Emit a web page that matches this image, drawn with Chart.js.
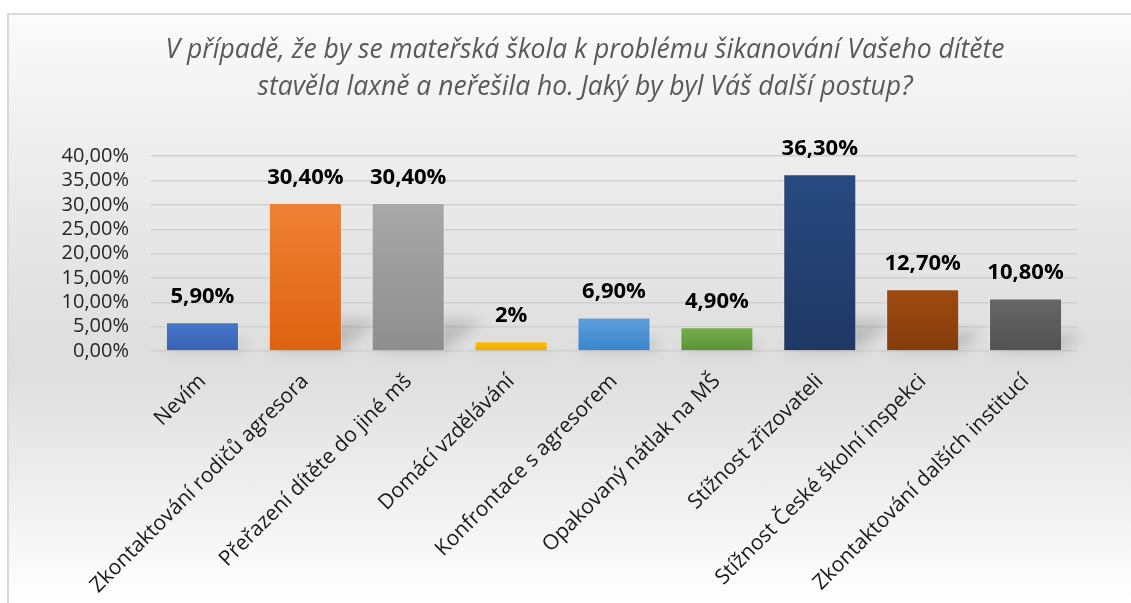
<!DOCTYPE html>
<html>
<head>
<meta charset="utf-8">
<script src="https://cdn.jsdelivr.net/npm/chart.js@4"></script>
<style>
	body { margin: 0; background: #fff; }
	#frame {
		position: absolute; left: 7px; top: 13px; right: 0; bottom: 0;
		border-top: 2px solid #d9d9d9; border-left: 2px solid #d9d9d9;
		background: linear-gradient(to bottom, #fbfbfb 0%, #efefef 20%, #e3e3e3 45%, #dedede 60%, #eeeeee 80%, #ffffff 100%);
	}
	#wrap { position: absolute; left: 0; top: 0; width: 1131px; height: 603px; }
</style>
</head>
<body>
<div id="frame"></div>
<div id="wrap"><canvas id="myChart"></canvas></div>
<script>
// 데이터
var categories = ["Nevím", "Zkontaktování rodičů agresora", "Přeřazení dítěte do jiné mš", "Domácí vzdělávání",
	"Konfrontace s agresorem", "Opakovaný nátlak na MŠ", "Stížnost zřizovateli", "Stížnost České školní inspekci",
	"Zkontaktování dalších institucí"];
var values = [5.9, 30.4, 30.4, 2, 6.9, 4.9, 36.3, 12.7, 10.8];
var yTicks = [0, 5, 10, 15, 20, 25, 30, 35, 40];

// 막대 색 (위 / 아래)
var colorTop = ["#4677cc", "#ef8136", "#a8a8a8", "#ffc20a", "#5d9fdb", "#74b04a", "#284a80", "#a04a10", "#676767"];
var colorBottom = ["#3961b0", "#de6210", "#8e8e8e", "#e8a800", "#3a84cc", "#5c9238", "#1f3763", "#843c0c", "#515151"];

function fmtPct(v, dec) {
	if (dec == null) dec = Number.isInteger(v) ? 0 : 2;
	return v.toFixed(dec).replace('.', ',') + '%';
}

// 막대 그림자 + 값 라벨
const barDeco = {
	id: 'barDeco',
	beforeDatasetsDraw(chart) {
		const ctx = chart.ctx;
		ctx.save();
		ctx.filter = 'blur(7px)';
		ctx.fillStyle = 'rgba(0,0,0,0.16)';
		chart.getDatasetMeta(0).data.forEach(function(bar){
			const h = bar.base - bar.y;
			const half = bar.width / 2;
			const dx = Math.min(h * 0.4, 38);
			const dy = Math.min(h * 0.3, 30);
			ctx.beginPath();
			ctx.moveTo(bar.x - half, bar.base);
			ctx.lineTo(bar.x + half, bar.base);
			ctx.lineTo(bar.x + half + dx, bar.base - dy);
			ctx.lineTo(bar.x - half + dx, bar.base - dy);
			ctx.closePath();
			ctx.fill();
		});
		ctx.restore();
	},
	afterDatasetsDraw(chart) {
		const ctx = chart.ctx;
		ctx.save();
		ctx.font = "bold 22px 'Open Sans'";
		ctx.fillStyle = "#000";
		ctx.textAlign = "center";
		ctx.textBaseline = "alphabetic";
		chart.getDatasetMeta(0).data.forEach(function(bar, i){
			ctx.fillText(fmtPct(values[i]), bar.x, bar.y - 19);
		});
		ctx.restore();
	}
};

const ctx = document.getElementById('myChart').getContext('2d');
const myChart = new Chart(ctx, {
	type: 'bar',
	data: {
		labels: categories,
		datasets: [{
			data: values,
			backgroundColor: function(c) {
				const chart = c.chart;
				const i = c.dataIndex;
				if (!chart.chartArea || !chart.scales.y) return colorTop[i];
				const yTop = chart.scales.y.getPixelForValue(values[i]);
				const yBot = chart.scales.y.getPixelForValue(0);
				const g = chart.ctx.createLinearGradient(0, yTop, 0, yBot);
				g.addColorStop(0, colorTop[i]);
				g.addColorStop(1, colorBottom[i]);
				return g;
			},
			borderColor: 'rgba(255,255,255,0.25)',
			borderWidth: 1,
			barPercentage: 0.71,
			categoryPercentage: 1
		}]
	},
	options: {
		responsive: true,
		maintainAspectRatio: false,
		animation: false,
		layout: { padding: { left: 39, right: 0, top: 0, bottom: 0 } },
		plugins: {
			legend: { display: false },
			tooltip: { enabled: false },
			title: {
				display: true,
				text: ["V případě, že by se mateřská škola k problému šikanování Vašeho dítěte",
					"stavěla laxně a neřešila ho. Jaký by byl Váš další postup?"],
				color: "#595959",
				font: { family: "'Open Sans'", size: 26.5, style: 'italic', weight: 'normal', lineHeight: 1.4 },
				padding: { top: 32, bottom: 50 }
			}
		},
		scales: {
			y: {
				min: 0, max: 40,
				afterBuildTicks: function(scale){ scale.ticks = yTicks.map(function(v){ return { value: v }; }); },
				afterFit: function(scale){ scale.width = 112; },
				border: { display: false },
				grid: { color: '#d0d0d0', lineWidth: 1.5, drawTicks: false },
				ticks: {
					autoSkip: false,
					color: '#262626',
					font: { family: "'Open Sans'", size: 20 },
					padding: 22,
					callback: function(v){ return fmtPct(v, 2); }
				}
			},
			// 오른쪽 여백용 빈 축
			yRight: {
				position: 'right',
				min: 0, max: 40,
				afterFit: function(scale){ scale.width = 54; },
				border: { display: false },
				grid: { display: false },
				ticks: { display: false }
			},
			x: {
				afterFit: function(scale){ scale.height = 252; },
				border: { display: false },
				grid: { display: false },
				ticks: {
					autoSkip: false,
					color: '#1a1a1a',
					font: { family: "'Open Sans'", size: 21 },
					minRotation: 45, maxRotation: 45,
					padding: 10
				}
			}
		}
	},
	plugins: [barDeco]
});
</script>
</body>
</html>
